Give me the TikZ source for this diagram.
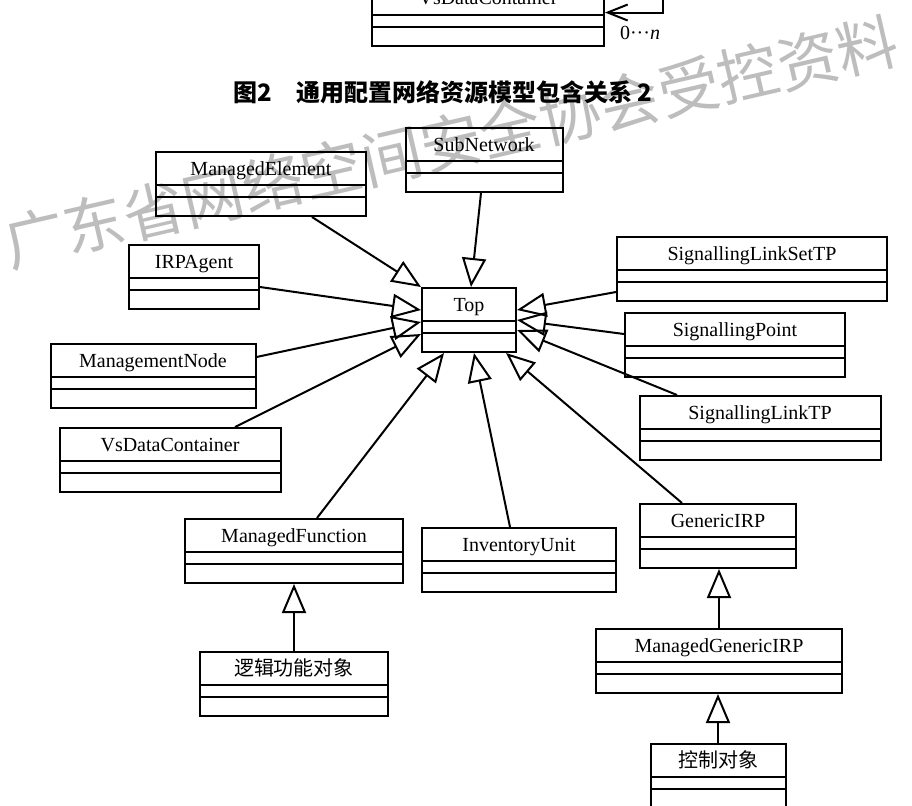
\documentclass[tikz,border=0pt]{standalone}
\usepackage{fontspec}
\setmainfont{Liberation Serif}
\newfontfamily\cjk{Noto Sans CJK SC}
\usetikzlibrary{shapes.multipart,arrows.meta}

\newlength{\du}
\setlength{\du}{0.5pt}

% three rows of a class box: name, attributes, operations
\newcommand{\classrows}[1]{\rule[-4.5pt]{0pt}{15.5pt}#1\nodepart{two}\rule{0pt}{5pt}\nodepart{three}\rule{0pt}{8.5pt}}

\tikzset{
  umlclass/.style={rectangle split, rectangle split parts=3, draw, line width=1pt,
    inner xsep=2pt, inner ysep=0pt, anchor=north, font=\fontsize{10}{12}\selectfont},
  inherit/.style={line width=1pt, -{Triangle[open,length=14.5pt,width=12pt]}},
  selfref/.style={line width=1pt, -{Straight Barb[length=10pt,width=8pt]}},
}

\begin{document}
\begin{tikzpicture}[x=\du,y=-\du]
\useasboundingbox (0,0) rectangle (912,805);
\clip (0,0) rectangle (912,805);

% watermark
\node[text=black!26, rotate=13, font=\cjk\fontsize{30.5}{30.5}\selectfont] (mark) at (451,142) {广东省网络空间安全协会受控资料};

% end of the figure before
\node[umlclass, minimum width=232\du] (vsdcold) at (488,-19.5) {\classrows{VsDataContainer}};
\coordinate (loopup) at (663,-40);
\draw[selfref] (loopup) |- ([yshift=1pt]vsdcold.one split east);
\node[anchor=west] (mult) at (613,33) {0···\textit{n}};

\node[font=\cjk\bfseries\fontsize{12}{14}\selectfont] (caption) at (443,92) {图2\quad 通用配置网络资源模型包含关系 2};

% classes
\node[umlclass, minimum width=157\du] (subnet) at (484,127) {\classrows{SubNetwork}};
\node[umlclass, minimum width=210\du] (mgdelem) at (261,151) {\classrows{ManagedElement}};
\node[umlclass, minimum width=130\du] (irpagent) at (194,244) {\classrows{IRPAgent}};
\node[umlclass, minimum width=94\du] (top) at (469,287) {\classrows{Top}};
\node[umlclass, minimum width=270\du] (slsettp) at (752,236) {\classrows{SignallingLinkSetTP}};
\node[umlclass, minimum width=220\du] (sigpoint) at (735,312) {\classrows{SignallingPoint}};
\node[umlclass, minimum width=205\du] (mgmtnode) at (153,343) {\classrows{ManagementNode}};
\node[umlclass, minimum width=241\du] (sltp) at (760,395) {\classrows{SignallingLinkTP}};
\node[umlclass, minimum width=221\du] (vsdc) at (170,427) {\classrows{VsDataContainer}};
\node[umlclass, minimum width=156\du] (genirp) at (718,503) {\classrows{GenericIRP}};
\node[umlclass, minimum width=218\du] (mgdfunc) at (294,518) {\classrows{ManagedFunction}};
\node[umlclass, minimum width=194\du] (invunit) at (519,527) {\classrows{InventoryUnit}};
\node[umlclass, minimum width=246\du] (mgirp) at (719,628) {\classrows{ManagedGenericIRP}};
\node[umlclass, minimum width=188\du] (logic) at (294,651) {\classrows{\cjk 逻辑功能对象}};
\node[umlclass, minimum width=135\du] (ctrl) at (718,743) {\classrows{\cjk 控制对象}};

% generalisations
\draw[inherit] ([xshift=51\du]mgdelem.south) -- (top.north west);
\draw[inherit] ([xshift=-3\du]subnet.south) -- ([xshift=2\du]top.north);
\draw[inherit] ([yshift=-10\du]irpagent.east) -- ([yshift=-23\du]top.north west);
\draw[inherit] ([yshift=19\du]mgmtnode.east) -- ([yshift=-35\du]top.north west);
\draw[inherit] ([xshift=65\du]vsdc.north) -- ([yshift=-47\du]top.north west);
\draw[inherit] ([xshift=23\du]mgdfunc.north) -- ([xshift=23\du]top.south west);
\draw[inherit] ([xshift=-9\du]invunit.north) -- ([xshift=53\du]top.south west);
\draw[inherit] ([xshift=-36\du]genirp.north) -- ([xshift=85\du]top.south west);
\draw[inherit] ([yshift=-23\du]slsettp.west) -- ([yshift=-23\du]top.north east);
\draw[inherit] ([yshift=11\du]sigpoint.west) -- ([yshift=-33\du]top.north east);
\draw[inherit] ([xshift=-83\du]sltp.north) -- ([yshift=-43\du]top.north east);
\draw[inherit] (logic.north) -- (logic.north |- mgdfunc.south);
\draw[inherit] (mgirp.north) -- (mgirp.north |- genirp.south);
\draw[inherit] (ctrl.north) -- (ctrl.north |- mgirp.south);
\end{tikzpicture}
\end{document}
